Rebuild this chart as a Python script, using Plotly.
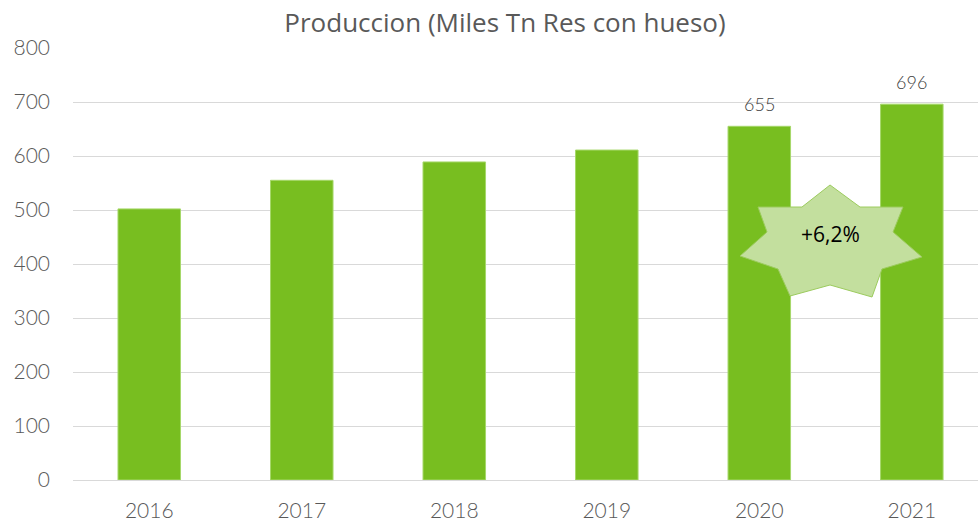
import plotly.graph_objects as go

years = ["2016", "2017", "2018", "2019", "2020", "2021"]
production = [502, 555, 589, 611, 655, 696]
labelled = [False, False, False, False, True, True]
growth_label = "+6,2%"
title_text = "Produccion (Miles Tn Res con hueso)"

W, H = 978, 523
L, T = 73, 48
PW = 905
PH = 432
R = W - L - PW
B = H - T - PH

def px(x):
    return (x - L) / PW

def py(y):
    return (T + PH - y) / PH

TICK_FONT = dict(family="Lato, sans-serif", size=21, color="#595959", weight=300)

fig = go.Figure()
fig.add_trace(go.Bar(
    x=list(range(len(years))), y=production,
    width=0.41,
    marker=dict(color="#78BE20", line=dict(color="#A6D86A", width=1)),
    hoverinfo="skip",
))

for i, (v, show) in enumerate(zip(production, labelled)):
    if show:
        fig.add_annotation(x=i, y=v, text=str(v), showarrow=False, yshift=22,
                           font=dict(family="Lato, sans-serif", size=18, color="#404040", weight=300))

# 7-point star (pixel vertices converted to paper coords)
star = [(830, 185), (860, 207), (903, 207), (893, 232), (922, 257), (882, 269),
        (872, 297), (830, 285), (790, 296), (778, 269), (740, 256), (767, 232),
        (758, 207), (802, 207)]
path = "M " + " L ".join(f"{px(x):.4f},{py(y):.4f}" for x, y in star) + " Z"
fig.add_shape(type="path", path=path, xref="paper", yref="paper",
              fillcolor="#C3DF9E", line=dict(color="#9CCB5E", width=1), layer="above")
fig.add_annotation(x=px(830), y=py(234), xref="paper", yref="paper", text=growth_label,
                   xanchor="center", yanchor="middle",
                   showarrow=False, font=dict(family="Open Sans, sans-serif", size=21, color="#000000"))

fig.update_layout(
    width=W, height=H,
    margin=dict(l=L, r=R, t=T, b=B),
    paper_bgcolor="white", plot_bgcolor="white",
    showlegend=False,
    title=dict(text=title_text, x=505 / W, xanchor="center", y=1 - 23 / H, yanchor="middle",
               font=dict(family="Open Sans, sans-serif", size=26, color="#595959")),
    xaxis=dict(tickmode="array", tickvals=list(range(len(years))), ticktext=years,
               range=[-0.5, 5.434], showgrid=False, zeroline=False, showline=False,
               tickfont=TICK_FONT, ticks="", ticklabelstandoff=16),
    yaxis=dict(range=[0, 800], dtick=100, showgrid=True, gridcolor="#D9D9D9", gridwidth=1,
               zeroline=True, zerolinecolor="#D9D9D9", zerolinewidth=1, showline=False,
               tickfont=TICK_FONT, ticklabelstandoff=22, ticks=""),
)

fig.write_html("out.html", config={"displayModeBar": False},
               post_script="document.body.style.margin='0';")
